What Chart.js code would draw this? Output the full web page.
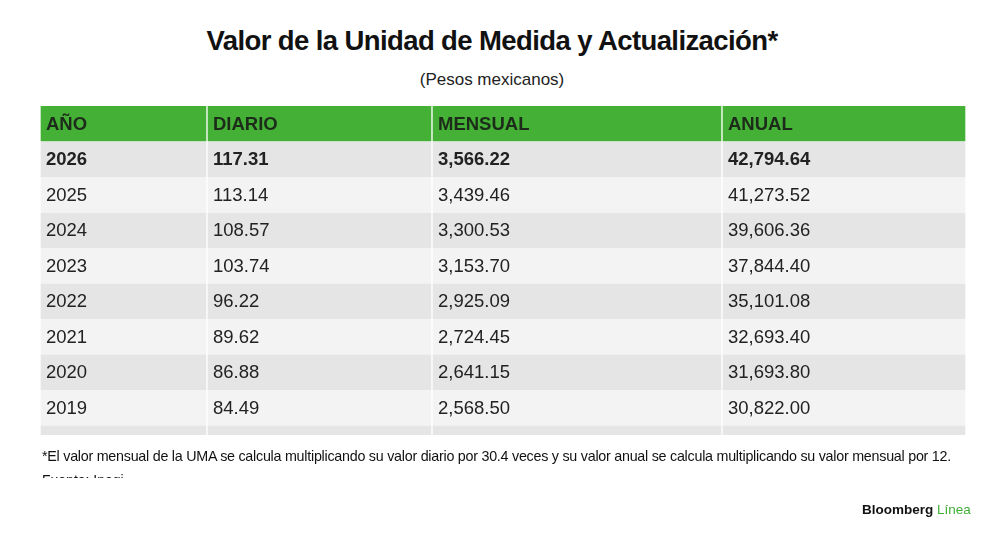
<!DOCTYPE html>
<html><head><meta charset="utf-8">
<script src="https://cdn.jsdelivr.net/npm/chart.js@4/dist/chart.umd.min.js"></script>
<style>
body{margin:0;background:#fff;font-family:"Liberation Sans",Arial,sans-serif;}
#wrap{position:relative;width:1000px;height:543px;}
canvas{position:absolute;left:0;top:0;}
.t{position:absolute;left:0;width:1000px;text-align:center;color:#111;}
</style></head><body>
<div id="wrap">
<div class="t" style="top:25px;font-size:27.5px;font-weight:bold;letter-spacing:-0.6px;left:-8px">Valor de la Unidad de Medida y Actualización*</div>
<div class="t" style="top:70px;font-size:17px;color:#222;left:-8px">(Pesos mexicanos)</div>
<canvas id="c" width="1000" height="543"></canvas>
<div style="position:absolute;left:42px;top:448px;font-size:14.3px;color:#111;letter-spacing:-0.25px">*El valor mensual de la UMA se calcula multiplicando su valor diario por 30.4 veces y su valor anual se calcula multiplicando su valor mensual por 12.</div>
<div style="position:absolute;left:42px;top:472px;height:6px;overflow:hidden;font-size:14px;color:#111">Fuente: Inegi</div>
<div style="position:absolute;left:862px;top:502px;font-size:13.5px;font-weight:bold;color:#111">Bloomberg <span style="color:#3fae35;font-weight:normal">Línea</span></div>
</div>
<script>
const headers = ["AÑO","DIARIO","MENSUAL","ANUAL"];
const years = ["2026","2025","2024","2023","2022","2021","2020","2019","2018"];
const diario = ["117.31","113.14","108.57","103.74","96.22","89.62","86.88","84.49","80.60"];
const mensual = ["3,566.22","3,439.46","3,300.53","3,153.70","2,925.09","2,724.45","2,641.15","2,568.50","2,450.24"];
const anual = ["42,794.64","41,273.52","39,606.36","37,844.40","35,101.08","32,693.40","31,693.80","30,822.00","29,402.88"];

const colEdges = [0,167,392,682,926];
const cols = [years,diario,mensual,anual];
const nRows = years.length + 1;
const rowColor = i => i===0 ? '#44b035' : (i%2===1 ? '#e5e5e5' : '#f3f3f3');

const bars = [];
for (let r=0;r<nRows;r++) for (let c=0;c<4;c++) bars.push({y:r+0.5, x:[colEdges[c], colEdges[c+1]], r, c});

const textPlugin = {
  id:'cells',
  afterDatasetsDraw(chart){
    const {ctx, chartArea:a, scales:{x,y}} = chart;
    ctx.save();
    ctx.beginPath(); ctx.rect(a.left,a.top,a.right-a.left,a.bottom-a.top); ctx.clip();
    ctx.textBaseline='middle';
    for (let r=0;r<nRows;r++){
      const py = y.getPixelForValue(r+0.5)+1;
      for (let c=0;c<4;c++){
        const px = x.getPixelForValue(colEdges[c])+6;
        const txt = r===0 ? headers[c] : cols[c][r-1];
        ctx.font = (r<=1?'bold ':'') + '18.5px "Liberation Sans", Arial, sans-serif';
        ctx.fillStyle = r===0 ? '#1d2b1a' : '#222';
        ctx.fillText(txt, px, py);
      }
    }
    ctx.restore();
  }
};

new Chart(document.getElementById('c'), {
  type:'bar',
  data:{datasets:[{
    data:bars,
    backgroundColor: bars.map(b=>rowColor(b.r)),
    borderColor:'#ffffff',
    borderWidth:{left:1,right:1,top:0,bottom:0},
    borderSkipped:false,
    barPercentage:1, categoryPercentage:1
  }]},
  options:{
    indexAxis:'y', responsive:false, animation:false,
    layout:{padding:{left:40,right:34,top:106,bottom:108}},
    plugins:{legend:{display:false},tooltip:{enabled:false}},
    scales:{
      x:{type:'linear',min:0,max:926,display:false},
      y:{type:'linear',min:0,max:9.27,reverse:true,offset:false,display:false}
    }
  },
  plugins:[textPlugin]
});
</script>
</body></html>
